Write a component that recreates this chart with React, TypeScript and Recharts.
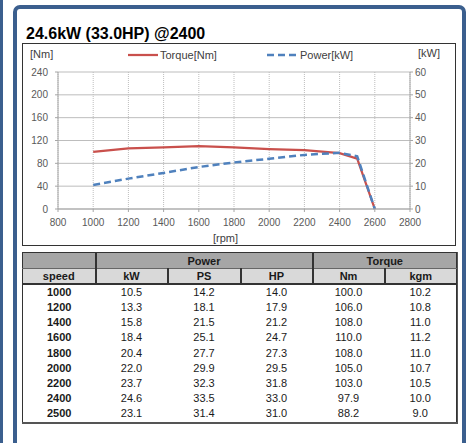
import React from 'react';
import { LineChart, Line, XAxis, YAxis, CartesianGrid, Legend } from 'recharts';

// ---- data ----
const speedRpm = [1000, 1200, 1400, 1600, 1800, 2000, 2200, 2400, 2500];
const powerKw = [10.5, 13.3, 15.8, 18.4, 20.4, 22.0, 23.7, 24.6, 23.1];
const powerPs = [14.2, 18.1, 21.5, 25.1, 27.7, 29.9, 32.3, 33.5, 31.4];
const powerHp = [14.0, 17.9, 21.2, 24.7, 27.3, 29.5, 31.8, 33.0, 31.0];
const torqueNm = [100.0, 106.0, 108.0, 110.0, 108.0, 105.0, 103.0, 97.9, 88.2];
const torqueKgm = [10.2, 10.8, 11.0, 11.2, 11.0, 10.7, 10.5, 10.0, 9.0];
const cutoffRpm = 2600;
const cutoffValue = 0;

const xTicks = [800, 1000, 1200, 1400, 1600, 1800, 2000, 2200, 2400, 2600, 2800];
const nmTicks = [0, 40, 80, 120, 160, 200, 240];
const kwTicks = [0, 10, 20, 30, 40, 50, 60];

const titleText = '24.6kW (33.0HP) @2400';
const torqueName = 'Torque[Nm]';
const powerName = 'Power[kW]';

const chartData = speedRpm
  .map((rpm, i) => ({ rpm, torque: torqueNm[i], power: powerKw[i] }))
  .concat([{ rpm: cutoffRpm, torque: cutoffValue, power: cutoffValue }]);

const BLUE = '#3b5f8e';
const RED = '#c9504c';
const PBLUE = '#4f81bd';
const FONT = '"Liberation Sans", Arial, sans-serif';
const tickStyle = { fontSize: 10, fill: '#595959', fontFamily: FONT };
const AXIS = '#a6a6a6';
const GRID = '#bdbdbd';

const LegendContent = () => (
  <div style={{ position: 'relative', width: 434, height: 16, fontFamily: FONT, fontSize: 11, color: '#404040' }}>
    <svg width={434} height={16} style={{ position: 'absolute', left: 0, top: 0 }}>
      <line x1={106} x2={136} y1={8} y2={8} stroke={RED} strokeWidth={2.25} />
      <line x1={245} x2={275} y1={8} y2={8} stroke={PBLUE} strokeWidth={2.5} strokeDasharray="7 4" />
    </svg>
    <span style={{ position: 'absolute', left: 138, top: 0, lineHeight: '16px' }}>{torqueName}</span>
    <span style={{ position: 'absolute', left: 278, top: 0, lineHeight: '16px' }}>{powerName}</span>
  </div>
);

const th1: React.CSSProperties = {
  background: '#a6a6a6',
  fontWeight: 'bold',
  height: 15,
  padding: 0,
  borderTop: '1px solid #333',
  borderBottom: '1px solid #666',
};
const th2: React.CSSProperties = {
  background: '#d9d9d9',
  fontWeight: 'bold',
  height: 14,
  padding: 0,
  borderBottom: '2px solid #333',
};
const sep = '2px solid #333';

export default function App() {
  return (
    <div style={{ position: 'absolute', left: 0, top: 0, width: 468, height: 443, background: '#fff', overflow: 'hidden', fontFamily: FONT }}>
      <div style={{ position: 'absolute', left: 0, top: 0, width: 3, height: 443, background: BLUE }} />
      <div style={{ position: 'absolute', left: 13, top: 5, width: 453, height: 470, border: `4px solid ${BLUE}`, borderRadius: 7, boxSizing: 'border-box' }} />
      <div style={{ position: 'absolute', left: 26, top: 25, fontSize: 16, fontWeight: 'bold', color: '#000', whiteSpace: 'nowrap' }}>{titleText}</div>

      <div style={{ position: 'absolute', left: 22, top: 43, width: 434, height: 203 }}>
        <LineChart width={434} height={203} data={chartData} margin={{ top: 29, right: 0, left: 0, bottom: 0 }}>
          <CartesianGrid yAxisId="nm" vertical={false} stroke={GRID} />
          <CartesianGrid yAxisId="nm" horizontal={false} stroke={GRID} strokeDasharray="1 1" />
          <XAxis
            dataKey="rpm"
            type="number"
            domain={[800, 2800]}
            ticks={xTicks}
            height={37}
            tick={tickStyle}
            tickSize={3}
            tickMargin={7}
            stroke={AXIS}
            interval={0}
          />
          <YAxis
            yAxisId="nm"
            domain={[0, 240]}
            ticks={nmTicks}
            width={36}
            tick={tickStyle}
            tickSize={3}
            tickMargin={7}
            stroke={AXIS}
            interval={0}
          />
          <YAxis
            yAxisId="kw"
            orientation="right"
            domain={[0, 60]}
            ticks={kwTicks}
            width={46}
            tick={{ ...tickStyle, textAnchor: 'start' }}
            tickSize={3}
            tickMargin={2}
            stroke={AXIS}
            interval={0}
          />
          <Legend
            layout="vertical"
            align="center"
            verticalAlign="middle"
            content={() => <LegendContent />}
            wrapperStyle={{ position: 'absolute', left: 0, top: 4, width: 434, height: 16 }}
          />
          <Line yAxisId="nm" type="linear" dataKey="torque" name={torqueName} stroke={RED} strokeWidth={2.25} dot={false} activeDot={false} isAnimationActive={false} />
          <Line yAxisId="kw" type="linear" dataKey="power" name={powerName} stroke={PBLUE} strokeWidth={2.5} strokeDasharray="7 4" dot={false} activeDot={false} isAnimationActive={false} />
        </LineChart>
        <div style={{ position: 'absolute', left: 8, top: 5, fontSize: 11, lineHeight: '12px', color: '#404040' }}>[Nm]</div>
        <div style={{ position: 'absolute', left: 396, top: 4, fontSize: 11, lineHeight: '12px', color: '#404040' }}>[kW]</div>
        <div style={{ position: 'absolute', left: 191, top: 189, fontSize: 11, lineHeight: '12px', color: '#404040' }}>[rpm]</div>
        <div style={{ position: 'absolute', left: 0, top: 0, width: 434, height: 203, border: '1px solid #333', boxSizing: 'border-box', pointerEvents: 'none' }} />
      </div>

      <div style={{ position: 'absolute', left: 22, top: 252, width: 434, boxShadow: '1px 1px 0 1px #555' }}>
        <table style={{ width: 434, borderCollapse: 'collapse', tableLayout: 'fixed', fontSize: 11, textAlign: 'center', color: '#1a1a1a', borderLeft: '1px solid #333', borderRight: '1px solid #333' }}>
          <colgroup>
            <col style={{ width: 73 }} />
            <col style={{ width: 72 }} />
            <col style={{ width: 73 }} />
            <col style={{ width: 72 }} />
            <col style={{ width: 72 }} />
            <col style={{ width: 72 }} />
          </colgroup>
          <thead>
            <tr>
              <th style={{ ...th1, borderRight: sep }}></th>
              <th colSpan={3} style={{ ...th1, borderRight: sep }}>Power</th>
              <th colSpan={2} style={th1}>Torque</th>
            </tr>
            <tr>
              <th style={{ ...th2, borderRight: sep }}>speed</th>
              <th style={{ ...th2, borderRight: sep }}>kW</th>
              <th style={{ ...th2, borderRight: sep }}>PS</th>
              <th style={{ ...th2, borderRight: sep }}>HP</th>
              <th style={{ ...th2, borderRight: sep }}>Nm</th>
              <th style={th2}>kgm</th>
            </tr>
          </thead>
          <tbody>
            {speedRpm.map((rpm, i) => (
              <tr key={rpm} style={{ height: 15.2 }}>
                <td style={{ padding: 0, fontWeight: 'bold', lineHeight: '15px' }}>{rpm}</td>
                <td style={{ padding: 0, lineHeight: '15px' }}>{powerKw[i].toFixed(1)}</td>
                <td style={{ padding: 0, lineHeight: '15px' }}>{powerPs[i].toFixed(1)}</td>
                <td style={{ padding: 0, lineHeight: '15px' }}>{powerHp[i].toFixed(1)}</td>
                <td style={{ padding: 0, lineHeight: '15px' }}>{torqueNm[i].toFixed(1)}</td>
                <td style={{ padding: 0, lineHeight: '15px' }}>{torqueKgm[i].toFixed(1)}</td>
              </tr>
            ))}
          </tbody>
        </table>
      </div>
    </div>
  );
}
